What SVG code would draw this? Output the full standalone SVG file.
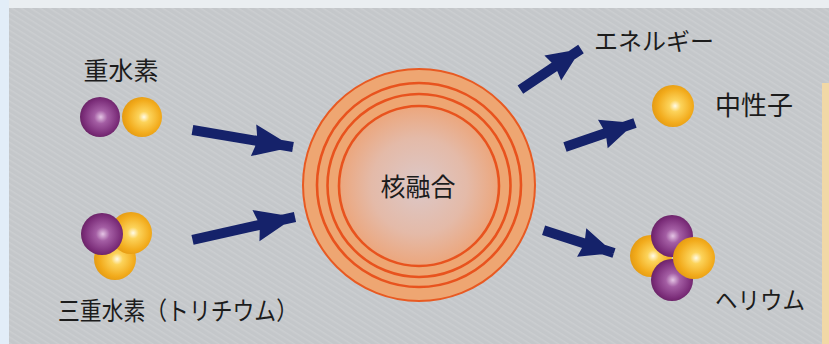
<svg xmlns="http://www.w3.org/2000/svg" width="829" height="344" viewBox="0 0 829 344">
  <style>
    .lbl { font-family: "Noto Sans CJK JP", "Noto Sans", sans-serif; fill: #1c1c1c; }
    .arrow { fill: #15226a; }
    .ring { fill: none; stroke: #e8531e; stroke-width: 2.6; }
  </style>
  <defs>
    <radialGradient id="gold" cx="55%" cy="50%" r="55%">
      <stop offset="0" stop-color="#fffbe8"/>
      <stop offset="0.25" stop-color="#fcd35a"/>
      <stop offset="0.75" stop-color="#f2ab1c"/>
      <stop offset="1" stop-color="#e49a12"/>
    </radialGradient>
    <radialGradient id="purple" cx="52%" cy="50%" r="55%">
      <stop offset="0" stop-color="#e4c4e4"/>
      <stop offset="0.3" stop-color="#a45ea4"/>
      <stop offset="0.8" stop-color="#7a2c78"/>
      <stop offset="1" stop-color="#63205f"/>
    </radialGradient>
    <radialGradient id="core" cx="50%" cy="50%" r="50%">
      <stop offset="0" stop-color="#dcc8c8"/>
      <stop offset="0.6" stop-color="#e4baa8"/>
      <stop offset="1" stop-color="#eca67c"/>
    </radialGradient>
    <pattern id="grain" width="5" height="5" patternUnits="userSpaceOnUse" patternTransform="rotate(32)">
      <rect width="5" height="1.5" fill="#ffffff" opacity="0.12"/>
    </pattern>
  </defs>

  <!-- page background -->
  <rect width="829" height="344" fill="#c4c7ca"/>
  <rect width="829" height="344" fill="url(#grain)"/>
  <rect x="0" y="0" width="829" height="8" fill="#eaeef1"/>
  <rect x="0" y="0" width="9" height="344" fill="#e2edf8"/>
  <rect x="822" y="83" width="7" height="261" fill="#f1d8a6"/>

  <!-- fusion core -->
  <g id="fusion">
    <circle cx="419" cy="185" r="116" fill="#eea672" stroke="#e85a22" stroke-width="2"/>
    <circle cx="419" cy="186" r="80" fill="url(#core)"/>
    <circle class="ring" cx="419" cy="185" r="102"/>
    <circle class="ring" cx="419" cy="185.5" r="91.5"/>
    <circle class="ring" cx="419" cy="186" r="80"/>
    <text class="lbl" x="418" y="196" font-size="25" text-anchor="middle">核融合</text>
  </g>

  <!-- deuterium -->
  <g id="deuterium">
    <text class="lbl" x="121" y="80" font-size="25" text-anchor="middle">重水素</text>
    <circle cx="100" cy="117" r="20" fill="url(#purple)"/>
    <circle cx="142" cy="117" r="20" fill="url(#gold)"/>
  </g>

  <!-- tritium -->
  <g id="tritium">
    <circle cx="115" cy="259" r="21" fill="url(#gold)"/>
    <circle cx="131" cy="233" r="21" fill="url(#gold)"/>
    <circle cx="102" cy="234" r="21" fill="url(#purple)"/>
    <text class="lbl" x="58" y="320" font-size="25" textLength="240" lengthAdjust="spacingAndGlyphs">三重水素（トリチウム）</text>
  </g>

  <!-- energy -->
  <g id="energy">
    <text class="lbl" x="594" y="50" font-size="24" textLength="120" lengthAdjust="spacingAndGlyphs">エネルギー</text>
  </g>

  <!-- neutron -->
  <g id="neutron">
    <circle cx="673" cy="106" r="21" fill="url(#gold)"/>
    <text class="lbl" x="715" y="115" font-size="26">中性子</text>
  </g>

  <!-- helium -->
  <g id="helium">
    <circle cx="651" cy="256" r="21" fill="url(#gold)"/>
    <circle cx="672" cy="236" r="21" fill="url(#purple)"/>
    <circle cx="672" cy="280" r="21" fill="url(#purple)"/>
    <circle cx="694" cy="258" r="21" fill="url(#gold)"/>
    <text class="lbl" x="715" y="309" font-size="24" textLength="90" lengthAdjust="spacingAndGlyphs">ヘリウム</text>
  </g>

  <!-- connectors: each arrow is drawn along -x from its tip, then placed -->
  <g id="connectors" class="arrow">
    <path d="M0,-5 L-102,-5 L-102,5 L0,5 Z M0,0 L-40,-16 L-36,0 L-40,16 Z" transform="translate(293,147) rotate(9.6)"/>
    <path d="M0,-5 L-105,-5 L-105,5 L0,5 Z M0,0 L-40,-16 L-36,0 L-40,16 Z" transform="translate(295,217) rotate(-12.6)"/>
    <path d="M0,-5 L-73,-5 L-73,5 L0,5 Z M0,0 L-34,-15 L-31,0 L-34,15 Z" transform="translate(581,49) rotate(-33.9)"/>
    <path d="M0,-5 L-74,-5 L-74,5 L0,5 Z M0,0 L-34,-15 L-31,0 L-34,15 Z" transform="translate(635,123) rotate(-18.9)"/>
    <path d="M0,-5 L-74,-5 L-74,5 L0,5 Z M0,0 L-34,-15 L-31,0 L-34,15 Z" transform="translate(614,253) rotate(17.9)"/>
  </g>
</svg>
